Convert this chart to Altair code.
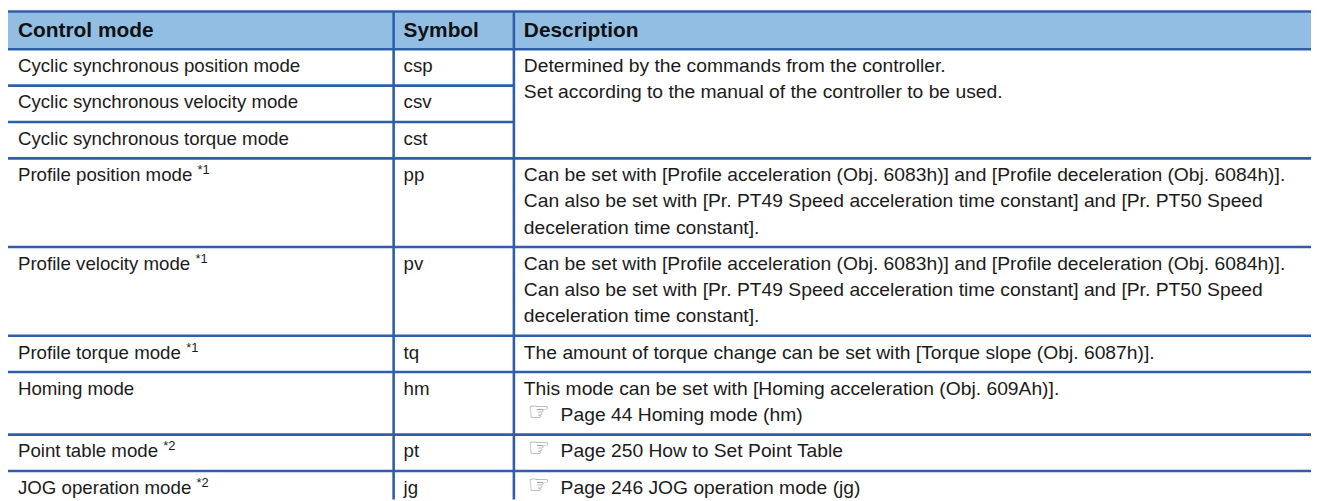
import altair as alt
import pandas as pd

# ---------------- data ----------------
headers = ["Control mode", "Symbol", "Description"]
modes = [
    "Cyclic synchronous position mode",
    "Cyclic synchronous velocity mode",
    "Cyclic synchronous torque mode",
    "Profile position mode",
    "Profile velocity mode",
    "Profile torque mode",
    "Homing mode",
    "Point table mode",
    "JOG operation mode",
]
notes = ["", "", "", "*1", "*1", "*1", "", "*2", "*2"]
symbols = ["csp", "csv", "cst", "pp", "pv", "tq", "hm", "pt", "jg"]
row_lines = [1, 1, 1, 3, 3, 1, 2, 1, 1]

desc_first_row = [0, 3, 4, 5, 6, 7, 8]
desc_row_span = [3, 1, 1, 1, 1, 1, 1]
desc_texts = [
    ["Determined by the commands from the controller.",
     "Set according to the manual of the controller to be used."],
    ["Can be set with [Profile acceleration (Obj. 6083h)] and [Profile deceleration (Obj. 6084h)].",
     "Can also be set with [Pr. PT49 Speed acceleration time constant] and [Pr. PT50 Speed",
     "deceleration time constant]."],
    ["Can be set with [Profile acceleration (Obj. 6083h)] and [Profile deceleration (Obj. 6084h)].",
     "Can also be set with [Pr. PT49 Speed acceleration time constant] and [Pr. PT50 Speed",
     "deceleration time constant]."],
    ["The amount of torque change can be set with [Torque slope (Obj. 6087h)]."],
    ["This mode can be set with [Homing acceleration (Obj. 609Ah)].",
     "\u261ePage 44 Homing mode (hm)"],
    ["\u261ePage 250 How to Set Point Table"],
    ["\u261ePage 246 JOG operation mode (jg)"],
]
ICON = "\u261e"

# ---------------- layout ----------------
W, H = 1311, 493
X0, Y0 = 8, 8                      # page offset of chart origin
COLS = [8, 396, 517, 1319]         # column borders (page px)
Y_TOP = 10
HEADER_H = 38
ROW_BASE = 36.6
PITCH = 26.3
BASE_OFF = 23
TEXT_PAD = 10
BODY_SIZE = 18.8
DESC_SIZE = 19.4
HEAD_SIZE = 21
SUP_SIZE = 13
LINE = "#2e5eab"
FILL = "#93bee4"
INK = "#1b1b1b"
BOTTOM = 501

# Helvetica/Arial advance widths (per 1000 em) for superscript placement
AW = {" ": 278, "A": 667, "C": 722, "G": 778, "H": 722, "J": 500, "O": 778, "P": 667,
      "a": 556, "b": 556, "c": 500, "d": 556, "e": 556, "f": 278, "g": 556, "h": 556,
      "i": 222, "l": 222, "m": 833, "n": 556, "o": 556, "p": 556, "q": 556, "r": 333,
      "s": 500, "t": 278, "u": 556, "v": 500, "y": 500}


def tw(s, size):
    return sum(AW.get(ch, 556) for ch in s) / 1000.0 * size


# row boundaries
bounds = [Y_TOP + HEADER_H]
for n in row_lines:
    bounds.append(bounds[-1] + ROW_BASE + (n - 1) * PITCH)

# ---------------- build tables ----------------
hlines = [dict(x=COLS[0], x2=COLS[3], y=Y_TOP), dict(x=COLS[0], x2=COLS[3], y=bounds[0])]
inner = set()
for f, sp in zip(desc_first_row, desc_row_span):
    for k in range(1, sp):
        inner.add(f + k)
for i in range(1, len(bounds)):
    b = bounds[i]
    if b > BOTTOM:
        continue
    right = COLS[2] if i in inner else COLS[3]
    hlines.append(dict(x=COLS[0], x2=right, y=b))
hl = pd.DataFrame(hlines)

vl = pd.DataFrame([dict(x=COLS[1], y=Y_TOP, y2=BOTTOM), dict(x=COLS[2], y=Y_TOP, y2=BOTTOM)])
hdr = pd.DataFrame([dict(x=COLS[0], x2=COLS[3], y=Y_TOP, y2=bounds[0])])

head_txt = pd.DataFrame([dict(x=COLS[j] + TEXT_PAD, y=Y_TOP + 25.5, t=headers[j]) for j in range(3)])

body = []
desc = []
sups = []
icons = []
for i, (m, s) in enumerate(zip(modes, symbols)):
    yb = bounds[i] + BASE_OFF
    body.append(dict(x=COLS[0] + TEXT_PAD, y=yb, t=m))
    body.append(dict(x=COLS[1] + TEXT_PAD, y=yb, t=s))
    if notes[i]:
        sups.append(dict(x=COLS[0] + TEXT_PAD + tw(m + " ", BODY_SIZE), y=yb - 7, t=notes[i]))
for f, lines in zip(desc_first_row, desc_texts):
    for k, line in enumerate(lines):
        yb = bounds[f] + BASE_OFF + k * PITCH
        if line.startswith(ICON):
            icons.append(dict(x=COLS[2] + 14, y=yb - 1, t=ICON))
            desc.append(dict(x=COLS[2] + 47, y=yb, t=line[1:]))
        else:
            desc.append(dict(x=COLS[2] + TEXT_PAD, y=yb, t=line))
body = pd.DataFrame(body)
desc = pd.DataFrame(desc)
sups = pd.DataFrame(sups)
icons = pd.DataFrame(icons)

xs = alt.Scale(domain=[X0, X0 + W])
ys = alt.Scale(domain=[Y0, Y0 + H], reverse=True)
X = lambda f: alt.X(f, type="quantitative", scale=xs, axis=None)
Y = lambda f: alt.Y(f, type="quantitative", scale=ys, axis=None)

fill = alt.Chart(hdr).mark_rect(color=FILL).encode(x=X("x"), x2="x2", y=Y("y"), y2="y2")
hrule = alt.Chart(hl).mark_rule(color=LINE, strokeWidth=2.6).encode(x=X("x"), x2="x2", y=Y("y"))
vrule = alt.Chart(vl).mark_rule(color=LINE, strokeWidth=2.6).encode(x=X("x"), y=Y("y"), y2="y2")

def txt(df, size, weight="normal", font="Liberation Sans", color=INK):
    return alt.Chart(df).mark_text(align="left", baseline="alphabetic", font=font,
                                   fontSize=size, fontWeight=weight, color=color).encode(
        x=X("x"), y=Y("y"), text="t:N")

chart = alt.layer(
    fill, hrule, vrule,
    txt(head_txt, HEAD_SIZE, "bold", color="#111111"),
    txt(body, BODY_SIZE),
    txt(desc, DESC_SIZE),
    txt(sups, SUP_SIZE),
    txt(icons, 25, font="DejaVu Sans", color="#8c8c8c"),
).properties(width=W, height=H, padding=0, autosize="none").configure_view(stroke=None)

chart.save("out.html", embed_options={"renderer": "svg", "actions": False})
